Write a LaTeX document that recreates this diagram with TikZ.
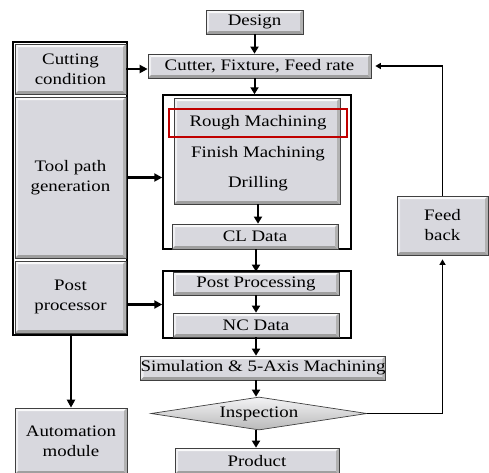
\documentclass[tikz,border=0pt]{standalone}
\usepackage{fontspec}
\setmainfont{Liberation Serif}[FakeStretch=1.18]
\usetikzlibrary{shapes.geometric,arrows.meta}
\definecolor{boxgray}{RGB}{216,216,222}
\definecolor{darkred}{RGB}{192,0,0}
\tikzset{
  bevelbox/.style={draw=black!75, line width=0.7pt, fill=boxgray, inner sep=0pt, align=center,
    font=\fontsize{16}{20}\selectfont,
    path picture={
      \coordinate (pnw) at (path picture bounding box.north west);
      \coordinate (pne) at (path picture bounding box.north east);
      \coordinate (psw) at (path picture bounding box.south west);
      \coordinate (pse) at (path picture bounding box.south east);
      \fill[white!85!boxgray] (pnw) -- (pne) -- ([shift={(-3,3)}]pne) -- ([shift={(3,3)}]pnw) -- cycle;
      \fill[white!60!boxgray] (pnw) -- (psw) -- ([shift={(3,-3)}]psw) -- ([shift={(3,3)}]pnw) -- cycle;
      \fill[gray!75] (psw) -- (pse) -- ([shift={(-3,-3)}]pse) -- ([shift={(3,-3)}]psw) -- cycle;
      \fill[gray!60] (pne) -- (pse) -- ([shift={(-3,-3)}]pse) -- ([shift={(-3,3)}]pne) -- cycle;
    }},
  frame/.style={draw=black, inner sep=0pt},
  txt/.style={inner sep=0pt, font=\fontsize{16}{20}\selectfont},
  flow/.style={-{Triangle[length=7pt,width=8pt]}, line width=2pt},
  side/.style={-{Triangle[length=8pt,width=8pt]}, line width=2.4pt},
  fback/.style={-{Triangle[length=5.5pt,width=6pt]}, line width=1.4pt, shorten >=4pt},
}
\begin{document}
\begin{tikzpicture}[x=1pt,y=-1pt]
\useasboundingbox[fill=white] (0,0) rectangle (489,472);
% frames
\node[frame, line width=2pt, minimum width=114pt, minimum height=293pt] (lf) at (70,188.5) {};
\node[frame, line width=1.5pt, minimum width=188pt, minimum height=154pt] (f1) at (257,172) {};
\node[frame, line width=1.5pt, minimum width=188pt, minimum height=67pt] (f2) at (257,304.5) {};
% boxes
\node[bevelbox, minimum width=97pt, minimum height=24pt] (design) at (254.5,22) {Design};
\node[bevelbox, minimum width=223pt, minimum height=24pt] (cutter) at (259.5,66) {Cutter, Fixture, Feed rate};
\node[bevelbox, minimum width=111pt, minimum height=50pt] (cut) at (70.5,69) {Cutting\\condition};
\node[bevelbox, minimum width=111pt, minimum height=161pt] (tool) at (70.5,177.5) {Tool path\\generation};
\node[bevelbox, minimum width=111pt, minimum height=72pt] (post) at (70.5,297) {Post\\processor};
\node[bevelbox, minimum width=112pt, minimum height=66pt] (auto) at (71,441) {Automation\\module};
\node[bevelbox, minimum width=166pt, minimum height=106pt] (mach) at (257,151) {};
\node[draw=darkred, line width=2.5pt, inner sep=0pt, minimum width=178pt, minimum height=28pt, font=\fontsize{16}{20}\selectfont] (rough) at (258,123) {Rough Machining};
\node[txt] (finish) at (258,154) {Finish Machining};
\node[txt] (drill) at (258,184) {Drilling};
\node[bevelbox, minimum width=166pt, minimum height=25pt] (cl) at (255,236.5) {CL Data};
\node[bevelbox, minimum width=166pt, minimum height=23pt] (pp) at (256,283.5) {Post Processing};
\node[bevelbox, minimum width=166pt, minimum height=24pt] (nc) at (256,325) {NC Data};
\node[bevelbox, minimum width=244pt, minimum height=24pt] (sim) at (263,368) {Simulation \& 5-Axis Machining};
\node[diamond, draw=black!75, line width=0.7pt, top color=white!70!boxgray, bottom color=gray!55, aspect=6.5, inner sep=0pt,
      minimum width=216pt, minimum height=33pt, font=\fontsize{16}{20}\selectfont] (insp) at (259,413.5) {Inspection};
\node[bevelbox, minimum width=164pt, minimum height=26pt] (prod) at (257,461) {Product};
\node[bevelbox, minimum width=91pt, minimum height=59pt] (fb) at (442.5,225.5) {Feed\\back};
% main flow
\draw[flow] (design.south) -- (design.south |- cutter.north);
\draw[flow] (design.south |- cutter.south) -- (design.south |- f1.north);
\draw[flow] ([xshift=1pt]mach.south) -- ([xshift=1pt]mach.south |- cl.north);
\draw[flow] (cl.south -| pp.north) -- (pp.north);
\draw[flow] (pp.south) -- (nc.north);
\draw[flow] (nc.south) -- (nc.south |- sim.north);
\draw[flow] (nc.south |- sim.south) -- (nc.south |- insp.north);
\draw[flow] (nc.south |- insp.south) -- (nc.south |- prod.north);
% side arrows
\draw[side] (cut.east) -- (cut.east -| cutter.west);
\draw[side] (lf.east |- tool.east) -- (f1.west |- tool.east);
\draw[side] (lf.east |- f2.west) -- (f2.west);
\draw[side] (auto.north |- lf.south) -- (auto.north);
% feedback
\draw[fback] (insp.east) -| (fb.south);
\draw[fback] (fb.north) |- (cutter.east);
\end{tikzpicture}
\end{document}
